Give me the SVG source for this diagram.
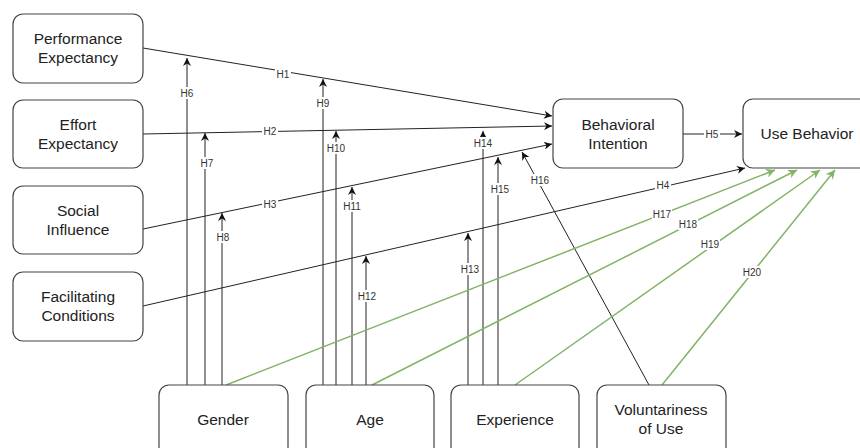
<svg xmlns="http://www.w3.org/2000/svg" width="860" height="448" viewBox="0 0 860 448">
<style>
.box{fill:#fff;stroke:#444;stroke-width:1.2}
.t{font-family:"Liberation Sans",Arial,sans-serif;font-size:15.5px;fill:#222;text-anchor:middle}
.c{fill:none;stroke:#222;stroke-width:1}
.g{fill:none;stroke:#82b366;stroke-width:1.5}
.bg{fill:#fff}
.l{font-family:"Liberation Sans",Arial,sans-serif;font-size:10px;fill:#333;text-anchor:middle}
</style>
<defs>
<marker id="a" viewBox="0 0 10 10" refX="10" refY="5" markerWidth="8" markerHeight="8" markerUnits="userSpaceOnUse" orient="auto"><path d="M0,0L10,5L0,10L3,5z" fill="#111"/></marker>
<marker id="ag" viewBox="0 0 10 10" refX="10" refY="5" markerWidth="9" markerHeight="9" markerUnits="userSpaceOnUse" orient="auto"><path d="M0,0L10,5L0,10L3,5z" fill="#82b366"/></marker>
</defs>
<rect width="860" height="448" fill="#fff"/>
<g id="connectors">
<path class="c" d="M143,48L552,116" marker-end="url(#a)"/>
<path class="c" d="M143,134L552,126" marker-end="url(#a)"/>
<path class="c" d="M143,229L552,144" marker-end="url(#a)"/>
<path class="c" d="M143,306L745,168" marker-end="url(#a)"/>
<path class="c" d="M683,134L742,134" marker-end="url(#a)"/>
<path class="c" d="M187,385L187,58" marker-end="url(#a)"/>
<path class="c" d="M205,385L205,133" marker-end="url(#a)"/>
<path class="c" d="M222,385L222,213" marker-end="url(#a)"/>
<path class="c" d="M323,385L323,79" marker-end="url(#a)"/>
<path class="c" d="M336,385L336,131" marker-end="url(#a)"/>
<path class="c" d="M352,385L352,187" marker-end="url(#a)"/>
<path class="c" d="M366,385L366,256" marker-end="url(#a)"/>
<path class="c" d="M468,385L468,233" marker-end="url(#a)"/>
<path class="c" d="M483,385L483,131" marker-end="url(#a)"/>
<path class="c" d="M498,385L498,157" marker-end="url(#a)"/>
<path class="c" d="M649,385L522,152" marker-end="url(#a)"/>
<path class="g" d="M226,385L775,170" marker-end="url(#ag)"/>
<path class="g" d="M372,385L797,170" marker-end="url(#ag)"/>
<path class="g" d="M515,385L820,170" marker-end="url(#ag)"/>
<path class="g" d="M662,385L835,170" marker-end="url(#ag)"/>
<g class="bg">
<rect x="275" y="68" width="16" height="12"/>
<rect x="262" y="125" width="16" height="12"/>
<rect x="262" y="198" width="16" height="12"/>
<rect x="655" y="179" width="16" height="12"/>
<rect x="704" y="128" width="16" height="12"/>
<rect x="179" y="87" width="16" height="12"/>
<rect x="199" y="157" width="16" height="12"/>
<rect x="215" y="231" width="16" height="12"/>
<rect x="315" y="97" width="16" height="12"/>
<rect x="326" y="142" width="20" height="12"/>
<rect x="342" y="200" width="20" height="12"/>
<rect x="357" y="290" width="20" height="12"/>
<rect x="460" y="263" width="20" height="12"/>
<rect x="473" y="137" width="20" height="12"/>
<rect x="490" y="183" width="20" height="12"/>
<rect x="530" y="174" width="20" height="12"/>
<rect x="652" y="208" width="20" height="12"/>
<rect x="678" y="218" width="20" height="12"/>
<rect x="700" y="238" width="20" height="12"/>
<rect x="742" y="266" width="20" height="12"/>
</g>
<text class="l" x="283" y="77.5">H1</text>
<text class="l" x="270" y="134.5">H2</text>
<text class="l" x="270" y="207.5">H3</text>
<text class="l" x="663" y="188.5">H4</text>
<text class="l" x="712" y="137.5">H5</text>
<text class="l" x="187" y="96.5">H6</text>
<text class="l" x="207" y="166.5">H7</text>
<text class="l" x="223" y="240.5">H8</text>
<text class="l" x="323" y="106.5">H9</text>
<text class="l" x="336" y="151.5">H10</text>
<text class="l" x="352" y="209.5">H11</text>
<text class="l" x="367" y="299.5">H12</text>
<text class="l" x="470" y="272.5">H13</text>
<text class="l" x="483" y="146.5">H14</text>
<text class="l" x="500" y="192.5">H15</text>
<text class="l" x="540" y="183.5">H16</text>
<text class="l" x="662" y="217.5">H17</text>
<text class="l" x="688" y="227.5">H18</text>
<text class="l" x="710" y="247.5">H19</text>
<text class="l" x="752" y="275.5">H20</text>
</g>
<g id="pe"><rect class="box" x="13" y="14" width="130" height="69" rx="10"/><text class="t" x="78" y="44">Performance</text><text class="t" x="78" y="63">Expectancy</text></g>
<g id="ee"><rect class="box" x="13" y="100" width="130" height="68" rx="10"/><text class="t" x="78" y="130">Effort</text><text class="t" x="78" y="149">Expectancy</text></g>
<g id="si"><rect class="box" x="13" y="186" width="130" height="68" rx="10"/><text class="t" x="78" y="216">Social</text><text class="t" x="78" y="235">Influence</text></g>
<g id="fc"><rect class="box" x="13" y="272" width="130" height="69" rx="10"/><text class="t" x="78" y="302">Facilitating</text><text class="t" x="78" y="321">Conditions</text></g>
<g id="bi"><rect class="box" x="553" y="99" width="130" height="69" rx="10"/><text class="t" x="618" y="130">Behavioral</text><text class="t" x="618" y="149">Intention</text></g>
<g id="ub"><rect class="box" x="743" y="99" width="130" height="69" rx="10"/><text class="t" x="807" y="139">Use Behavior</text></g>
<g id="gender"><rect class="box" x="159" y="385" width="129" height="75" rx="10"/><text class="t" x="223" y="425">Gender</text></g>
<g id="age"><rect class="box" x="306" y="385" width="128" height="75" rx="10"/><text class="t" x="370" y="425">Age</text></g>
<g id="exp"><rect class="box" x="451" y="385" width="128" height="75" rx="10"/><text class="t" x="515" y="425">Experience</text></g>
<g id="vol"><rect class="box" x="597" y="385" width="129" height="75" rx="10"/><text class="t" x="661" y="415">Voluntariness</text><text class="t" x="661" y="434">of Use</text></g>
</svg>
